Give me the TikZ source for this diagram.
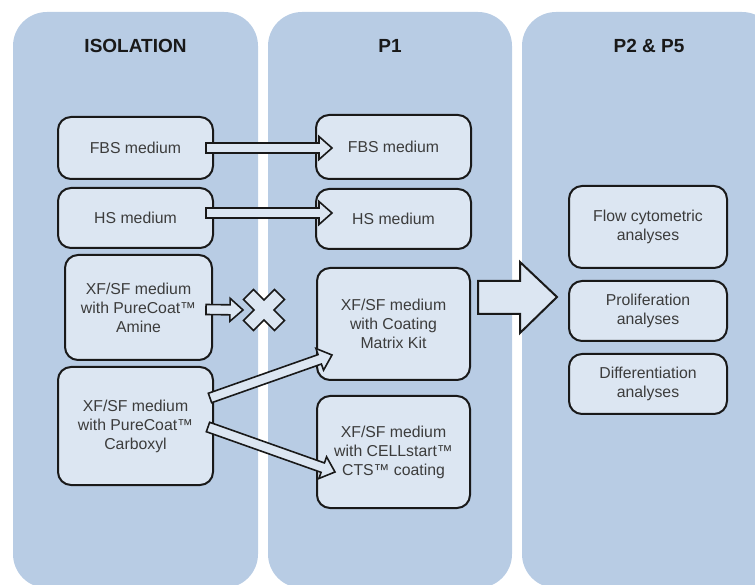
\documentclass[tikz,border=0pt]{standalone}
\usepackage{fontspec}
\setmainfont{Liberation Sans}
\usepackage{tikz}
\usetikzlibrary{calc}

\definecolor{panelblue}{RGB}{184,204,228}
\definecolor{boxblue}{RGB}{220,230,242}
\definecolor{textgrey}{RGB}{60,60,60}

\tikzset{
  medium/.style={draw=black!90, line width=2pt, fill=boxblue, rounded corners=13pt,
    align=center, text=textgrey, font=\fontsize{15.8}{19}\selectfont,
    inner sep=0pt, minimum width=155pt},
  title/.style={font=\fontsize{19}{22}\selectfont\bfseries, text=black!90},
  blockarr/.style={draw=black!90, line width=1.6pt, fill=boxblue, line join=miter}
}

% block arrow from #1 to #2
\newcommand{\blockarrow}[2]{%
  \path let \p1=($(#2)-(#1)$) in \pgfextra{%
    \pgfmathsetmacro\barang{atan2(\y1,\x1)}\global\let\barang\barang
    \pgfmathsetmacro\barlen{veclen(\x1,\y1)}\global\let\barlen\barlen};
  \begin{scope}[shift={(#1)}, rotate=\barang]
    \draw[blockarr] (0,-5) -- ({\barlen-13},-5) -- ({\barlen-13},-11.5) -- (\barlen,0)
      -- ({\barlen-13},11.5) -- ({\barlen-13},5) -- (0,5) -- cycle;
  \end{scope}}

\begin{document}
\begin{tikzpicture}[x=1pt, y=1pt]
  \useasboundingbox (0,0) rectangle (755,584);
  \clip (0,0) rectangle (755,584);
  %Panels
  \foreach \l/\r/\tx/\n/\t in {13/258/135.5/iso/ISOLATION, 268/512/390/pone/P1, 522/776/649/ptwo/P2 \& P5}{
    \fill[panelblue, rounded corners=34pt] (\l,-4) rectangle (\r,572);
    \node[title] (\n) at (\tx,538) {\t};
  }
  %Isolation
  \node[medium, minimum height=62pt] (fbsL) at (135.5,436) {FBS medium};
  \node[medium, minimum height=60pt] (hsL) at (135.5,366) {HS medium};
  \node[medium, minimum width=147pt, minimum height=105pt] (amine) at (138.5,276.5)
    {XF/SF medium\\with PureCoat™\\Amine};
  \node[medium, minimum height=118pt] (carbox) at (135.5,158)
    {XF/SF medium\\with PureCoat™\\Carboxyl};
  %P1
  \node[medium, minimum height=64pt] (fbsR) at (393.5,437) {FBS medium};
  \node[medium, minimum height=60pt] (hsR) at (393.5,365) {HS medium};
  \node[medium, minimum width=153pt, minimum height=112pt] (matrix) at (393.5,260)
    {XF/SF medium\\with Coating\\Matrix Kit};
  \node[medium, minimum width=153pt, minimum height=112pt] (cellstart) at (393.5,132)
    {XF/SF medium\\with CELLstart™\\CTS™ coating};
  %P2 & P5
  \node[medium, minimum width=158pt, minimum height=82pt] (flow) at (648,357)
    {Flow cytometric\\analyses};
  \node[medium, minimum width=158pt, minimum height=60pt] (prolif) at (648,273)
    {Proliferation\\analyses};
  \node[medium, minimum width=158pt, minimum height=60pt] (diff) at (648,200)
    {Differentiation\\analyses};
  %Arrows
  \blockarrow{[xshift=-8pt]fbsL.east}{[shift={(17,-1)}]fbsR.west}
  \blockarrow{[shift={(-8,5)}]hsL.east}{[shift={(17,6)}]hsR.west}
  \coordinate (nogo) at (264,274);
  \blockarrow{[shift={(-7,-2)}]amine.east}{[xshift=-21pt]nogo}
  \blockarrow{[shift={(-4,28)}]carbox.east}{[shift={(16,26)}]matrix.south west}
  \blockarrow{[shift={(-6,-1)}]carbox.east}{[shift={(19,-20)}]cellstart.west}
  %Cross
  \draw[blockarr, shift={(nogo)}, rotate=45] (-7,22) -- (7,22) -- (7,7) -- (22,7)
    -- (22,-7) -- (7,-7) -- (7,-22) -- (-7,-22) -- (-7,-7) -- (-22,-7) -- (-22,7)
    -- (-7,7) -- cycle;
  %Big arrow
  \draw[blockarr, line width=2pt] (478,303) -- (520,303) -- (520,322) -- (557,287)
    -- (520,251) -- (520,270) -- (478,270) -- cycle;
\end{tikzpicture}
\end{document}
